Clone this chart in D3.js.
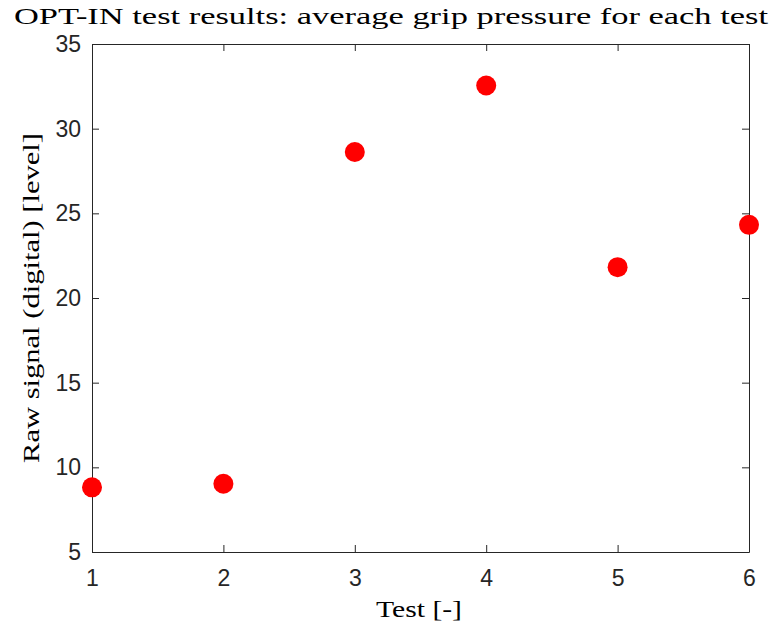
<!DOCTYPE html>
<html lang="en">
<head>
<meta charset="utf-8">
<title>OPT-IN test results</title>
<script src="https://cdn.jsdelivr.net/npm/d3@7"></script>
<style>
  body { margin: 0; background: #fff; }
  .tick text { font-family: "Liberation Sans", Arial, sans-serif; font-size: 23px; fill: #262626; }
  .lbl { font-family: "Liberation Serif", "DejaVu Serif", serif; fill: #000; }
</style>
</head>
<body>
<div id="chart"></div>
<script>
// data
var tests = [1, 2, 3, 4, 5, 6];
var pressure = [8.82, 9.03, 28.62, 32.55, 21.82, 24.32];
var yTicks = [5, 10, 15, 20, 25, 30, 35];

var w = 774, h = 630;
var padL = 92, padR = 749, padT = 44, padB = 552;

var svg = d3.select("#chart").append("svg")
  .attr("width", w).attr("height", h);

var x = d3.scaleLinear().domain([1, 6]).range([padL, padR]);
var y = d3.scaleLinear().domain([5, 35]).range([padB, padT]);

// axes, ticks pointing inward
var xAxis = d3.axisBottom(x).tickValues(tests).tickSizeInner(-7).tickSizeOuter(0).tickPadding(18).tickFormat(d3.format("d"));
var yAxis = d3.axisLeft(y).tickValues(yTicks).tickSizeInner(-7).tickSizeOuter(0).tickPadding(11);

svg.append("g").attr("transform", "translate(0," + padB + ")").call(xAxis);
svg.append("g").attr("transform", "translate(" + padL + ",0)").call(yAxis);
// top and right edges of the box
svg.append("g").attr("transform", "translate(0," + padT + ")")
  .call(d3.axisTop(x).tickValues(tests).tickSizeInner(-7).tickSizeOuter(0).tickFormat(""));
svg.append("g").attr("transform", "translate(" + padR + ",0)")
  .call(d3.axisRight(y).tickValues(yTicks).tickSizeInner(-7).tickSizeOuter(0).tickFormat(""));

svg.selectAll(".domain").attr("stroke", "#262626").attr("stroke-width", 1);
svg.selectAll(".tick line").attr("stroke", "#262626");

svg.selectAll("circle.pt")
  .data(pressure)
  .enter()
  .append("circle")
  .attr("class", "pt")
  .attr("cx", function(d, i) { return x(tests[i]); })
  .attr("cy", function(d) { return y(d); })
  .attr("r", 10)
  .attr("fill", "#ff0000");

svg.append("text").attr("class", "lbl")
  .attr("x", 391).attr("y", 24)
  .attr("text-anchor", "middle")
  .attr("font-size", "24px")
  .attr("textLength", 754)
  .attr("lengthAdjust", "spacingAndGlyphs")
  .text("OPT-IN test results: average grip pressure for each test");

svg.append("text").attr("class", "lbl")
  .attr("x", 419).attr("y", 617)
  .attr("text-anchor", "middle")
  .attr("font-size", "24px")
  .attr("textLength", 86)
  .attr("lengthAdjust", "spacingAndGlyphs")
  .text("Test [-]");

svg.append("text").attr("class", "lbl")
  .attr("transform", "translate(39,298) rotate(-90)")
  .attr("text-anchor", "middle")
  .attr("font-size", "24px")
  .attr("textLength", 330)
  .attr("lengthAdjust", "spacingAndGlyphs")
  .text("Raw signal (digital) [level]");
</script>
</body>
</html>
